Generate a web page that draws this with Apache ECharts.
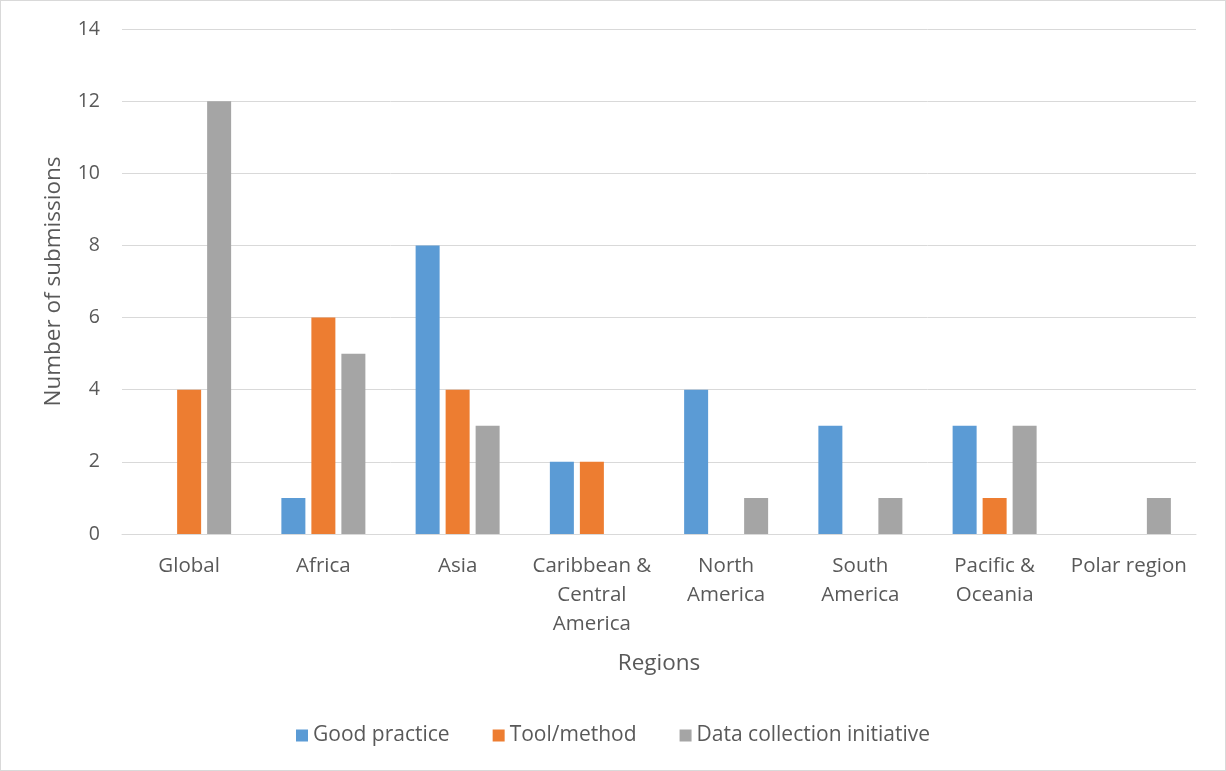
<!DOCTYPE html>
<html>
<head>
<meta charset="utf-8">
<script src="https://cdn.jsdelivr.net/npm/echarts@6/dist/echarts.min.js"></script>
<style>
html,body{margin:0;padding:0;background:#fff;}
#c{width:1224px;height:769px;border:1px solid #D9D9D9;}
</style>
</head>
<body>
<div id="c"></div>
<script>
const categories = ["Global", "Africa", "Asia", "Caribbean &\nCentral\nAmerica", "North\nAmerica", "South\nAmerica", "Pacific &\nOceania", "Polar region"];
const goodPractice = [0, 1, 8, 2, 4, 3, 3, 0];
const toolMethod = [4, 6, 4, 2, 0, 0, 1, 0];
const dataCollection = [12, 5, 3, 0, 1, 1, 3, 1];
const seriesNames = ["Good practice", "Tool/method", "Data collection initiative"];
const yTicks = {min: 0, max: 14, interval: 2};

const font = "'Open Sans', 'Liberation Sans', sans-serif";
const txt = '#595959';
const chart = echarts.init(document.getElementById('c'));
const mk = (name, data, color) => ({
  name, type: 'bar', data, barWidth: 24, barGap: '25%',
  itemStyle: {color}
});
chart.setOption({
  animation: false,
  textStyle: {fontFamily: font},
  grid: {left: 121, right: 29, top: 28, bottom: 236},
  legend: {
    bottom: 19, left: 'center', itemWidth: 12, itemHeight: 12, itemGap: 43,
    icon: 'rect',
    textStyle: {fontFamily: font, fontSize: 21, color: txt},
    data: seriesNames
  },
  xAxis: {
    type: 'category', data: categories,
    axisTick: {show: false},
    axisLine: {lineStyle: {color: '#D9D9D9'}},
    axisLabel: {fontFamily: font, fontSize: 20.5, color: txt, interval: 0, margin: 18, lineHeight: 29},
    name: 'Regions', nameLocation: 'middle', nameGap: 118,
    nameTextStyle: {fontFamily: font, fontSize: 22.5, color: txt}
  },
  yAxis: {
    type: 'value', min: yTicks.min, max: yTicks.max, interval: yTicks.interval,
    axisLine: {show: false}, axisTick: {show: false},
    splitLine: {lineStyle: {color: '#D9D9D9'}},
    axisLabel: {fontFamily: font, fontSize: 19.5, color: txt, margin: 22},
    name: 'Number of submissions', nameLocation: 'middle', nameGap: 57, nameRotate: 90,
    nameTextStyle: {fontFamily: font, fontSize: 22.5, color: txt}
  },
  series: [
    mk(seriesNames[0], goodPractice, '#5B9BD5'),
    mk(seriesNames[1], toolMethod, '#ED7D31'),
    mk(seriesNames[2], dataCollection, '#A5A5A5')
  ]
});
</script>
</body>
</html>
